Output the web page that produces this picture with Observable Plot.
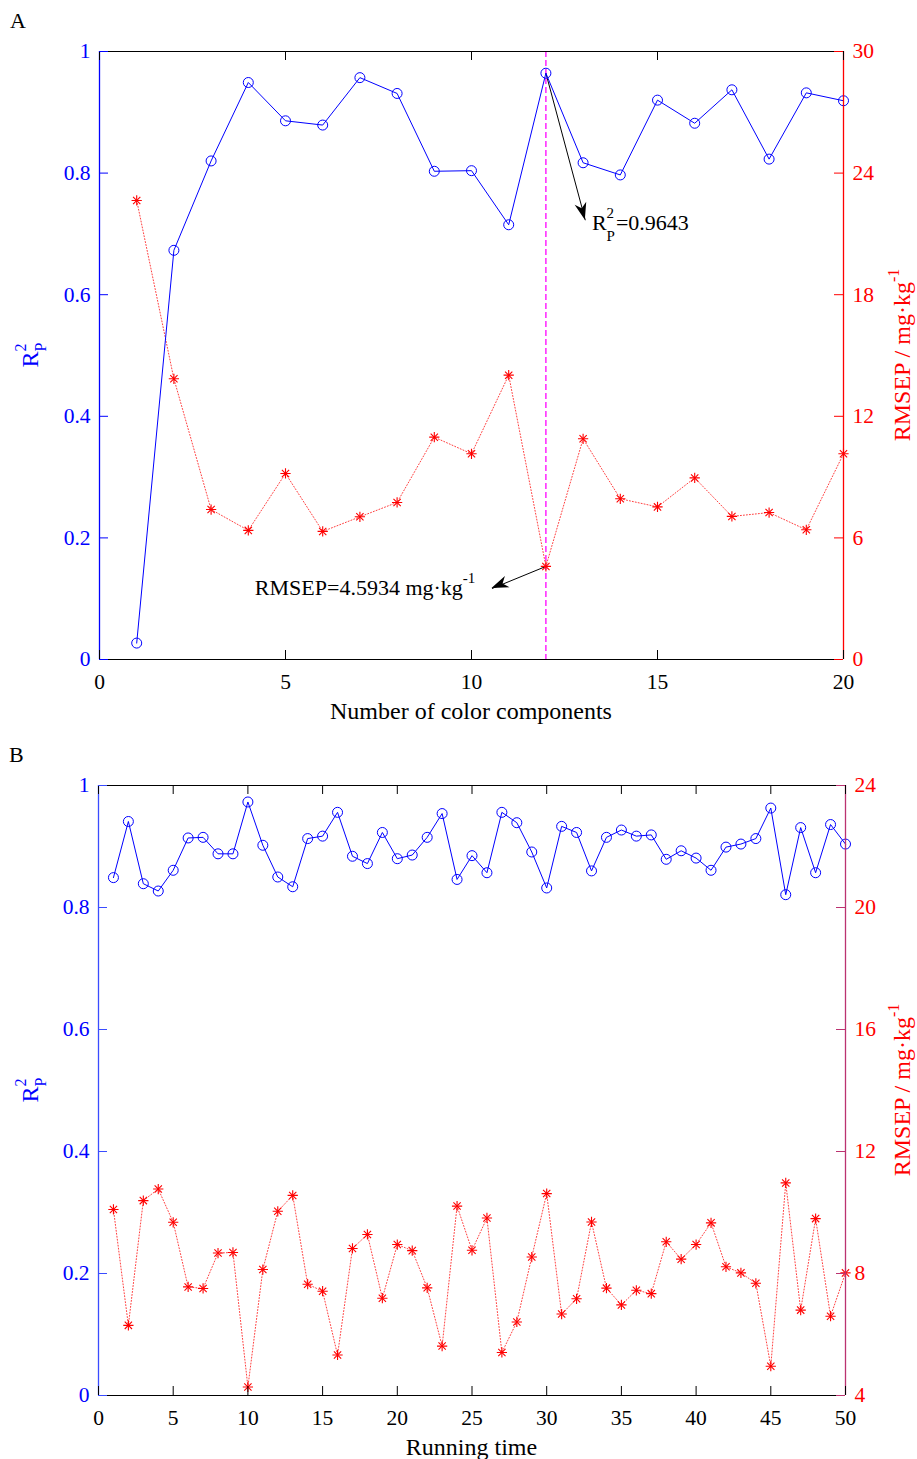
<!DOCTYPE html>
<html><head><meta charset="utf-8">
<script src="https://cdn.jsdelivr.net/npm/d3@7"></script>
<script src="https://cdn.jsdelivr.net/npm/@observablehq/plot@0.6"></script>
<style>
body{margin:0;background:#fff;}
#wrap{position:relative;width:917px;height:1459px;overflow:hidden;background:#fff;}
.pan{position:absolute;left:0;width:917px;}
</style></head><body><div id="wrap"><div id="pa" class="pan" style="top:0"></div><div id="pb" class="pan" style="top:730px"></div></div>
<script>
// ---------- Panel A data ----------
const componentsA = [1,2,3,4,5,6,7,8,9,10,11,12,13,14,15,16,17,18,19,20];
const r2A = [0.027,0.673,0.820,0.949,0.886,0.879,0.957,0.931,0.803,0.804,0.715,0.9643,0.817,0.797,0.920,0.882,0.937,0.823,0.932,0.919];
const rmsepA = [22.65,13.85,7.40,6.37,9.18,6.32,7.04,7.75,10.97,10.15,14.03,4.5934,10.89,7.93,7.53,8.96,7.06,7.25,6.40,10.15];
const xTicksA = [0,5,10,15,20];
const rmsepDomainA = [0,30];
const rmsepTicksA = [0,6,12,18,24,30];
const bestComponent = [12];
// annotation anchors (x in components, y in R2 / RMSEP units)
const r2Arrow = {x1:12, y1:0.9643, x2:13.06, y2:0.7225};
const r2Label = {x:13.25, y:0.706, value:"=0.9643"};
const rmArrow = {x1:12, y1:4.5934, x2:10.55, y2:3.50};
const rmLabel = {x:4.19, y:3.17, value:"RMSEP=4.5934 mg·kg"};

// ---------- Panel B data ----------
const runsB = [1,2,3,4,5,6,7,8,9,10,11,12,13,14,15,16,17,18,19,20,21,22,23,24,25,26,27,28,29,30,31,32,33,34,35,36,37,38,39,40,41,42,43,44,45,46,47,48,49,50];
const r2B = [0.849,0.941,0.839,0.827,0.861,0.914,0.915,0.888,0.888,0.973,0.902,0.850,0.834,0.913,0.917,0.956,0.884,0.872,0.923,0.880,0.886,0.915,0.954,0.846,0.885,0.857,0.956,0.939,0.891,0.832,0.933,0.923,0.860,0.915,0.927,0.917,0.919,0.879,0.893,0.881,0.861,0.899,0.904,0.913,0.963,0.821,0.931,0.857,0.936,0.904];
const rmsepB = [10.10,6.30,10.39,10.77,9.68,7.56,7.51,8.67,8.69,4.28,8.13,10.04,10.56,7.65,7.42,5.33,8.82,9.28,7.19,8.95,8.75,7.53,5.62,10.21,8.76,9.82,5.41,6.41,8.54,10.62,6.67,7.17,9.69,7.52,6.97,7.45,7.34,9.04,8.47,8.95,9.66,8.22,8.02,7.68,4.96,10.97,6.80,9.80,6.60,8.02];
const xTicksB = [0,5,10,15,20,25,30,35,40,45,50];
const rmsepDomainB = [4,24];
const rmsepTicksB = [4,8,12,16,20,24];

const r2Ticks = [0,0.2,0.4,0.6,0.8,1];
const r2Domain = [0,1];
const SERIF = "Liberation Serif, Times New Roman, serif";
const W = 917;

function addText(svg, {x, y, rotate=0, anchor="start", fill="black", size=22, parts}) {
  const t = d3.select(svg).append("text")
    .attr("transform", `translate(${x},${y}) rotate(${rotate})`)
    .attr("text-anchor", anchor).attr("fill", fill)
    .attr("font-family", SERIF).attr("font-size", size)
    .style("font-variant", "normal");
  for (const p of parts) {
    const s = t.append("tspan").text(p.t);
    if (p.size) s.attr("font-size", p.size);
    if (p.dx) s.attr("dx", p.dx);
    if (p.dy) s.attr("dy", p.dy);
  }
  return t;
}

function arrowHead(svg, x1, y1, x2, y2) {
  const L = 17, Wd = 6, notch = 5;
  const dx = x2 - x1, dy = y2 - y1, len = Math.hypot(dx, dy);
  const ux = dx/len, uy = dy/len, nx = -uy, ny = ux;
  const pts = [
    [x2, y2],
    [x2 - L*ux + Wd*nx, y2 - L*uy + Wd*ny],
    [x2 - (L-notch)*ux, y2 - (L-notch)*uy],
    [x2 - L*ux - Wd*nx, y2 - L*uy - Wd*ny]
  ];
  d3.select(svg).append("polygon").attr("points", pts.map(p=>p.join(",")).join(" ")).attr("fill","black");
}

function panel({host, height, mL, mR, mT, mB, xDomain, xTicks, xs, r2, rm, rDomain, rTicks, rightColor, leftColor, xTitle, letter, letterPos, extra}) {
  const toY = d3.scaleLinear().domain(rDomain).range([0,1]);
  const plotW = W - mL - mR, plotH = height - mT - mB;
  const tk = 9;
  const r2Data = xs.map((x,i)=>({x, v:r2[i]}));
  const rmData = xs.map((x,i)=>({x, v:toY(rm[i])}));
  const marks = [];
  if (extra) marks.push(...extra.marks(toY));
  marks.push(
    Plot.line(rmData, {x:"x", y:"v", stroke:"#ff4040", strokeWidth:1, strokeDasharray:"1,2"}),
    Plot.dot(rmData, {x:"x", y:"v", symbol:"plus", r:3.4, stroke:"#ff0000", strokeWidth:1.1}),
    Plot.dot(rmData, {x:"x", y:"v", symbol:"times", r:3.4, stroke:"#ff0000", strokeWidth:1.1}),
    Plot.line(r2Data, {x:"x", y:"v", stroke:"blue", strokeWidth:1}),
    Plot.dot(r2Data, {x:"x", y:"v", symbol:"circle", r:5, stroke:"blue", fill:"none", strokeWidth:1}),
    // box
    Plot.ruleY(r2Domain, {stroke:"black", strokeWidth:1}),
    Plot.ruleX([xDomain[0]], {stroke:leftColor, strokeWidth:1.3}),
    Plot.ruleX([xDomain[1]], {stroke:rightColor, strokeWidth:1.3}),
    // inward ticks
    Plot.tickX(xTicks, {x:d=>d, stroke:"black", insetTop: plotH - tk}),
    Plot.tickX(xTicks, {x:d=>d, stroke:"black", insetBottom: plotH - tk}),
    Plot.tickY(r2Ticks, {y:d=>d, stroke:leftColor, insetRight: plotW - tk}),
    Plot.tickY(rTicks.map(toY), {y:d=>d, stroke:rightColor, insetLeft: plotW - tk}),
    // tick labels
    Plot.axisX({ticks:xTicks, tickSize:0, tickPadding:14, label:null, color:"black", fill:"black", fontFamily:SERIF, fontVariant:"normal", tickFormat:d=>String(d)}),
    Plot.axisY({anchor:"left", ticks:r2Ticks, tickSize:0, tickPadding:9, label:null, color:"blue", fill:"blue", fontFamily:SERIF, fontVariant:"normal", tickFormat:d=>String(d)}),
    Plot.axisY({anchor:"right", ticks:rTicks.map(toY), tickSize:0, tickPadding:9, label:null, color:"red", fill:"red", fontFamily:SERIF, fontVariant:"normal", tickFormat:d=>String(Math.round(toY.invert(d)))})
  );
  const svg = Plot.plot({
    width: W, height, marginLeft: mL, marginRight: mR, marginTop: mT, marginBottom: mB,
    x: {domain: xDomain}, y: {domain: r2Domain},
    style: {fontFamily: SERIF, fontSize: "21.5px", background: "white", overflow: "visible", color: "black"},
    marks
  });
  host.appendChild(svg);
  // force serif face on every tick label
  d3.select(svg).selectAll("g").filter(function() {
    const a = this.getAttribute("aria-label") || "";
    return a.includes("axis");
  }).attr("font-family", SERIF).style("font-family", SERIF);
  d3.select(svg).selectAll("text").style("font-family", SERIF).style("font-variant", "normal");
  let sx, sy;
  try { sx = svg.scale("x").apply; sy = svg.scale("y").apply; } catch(e) {}
  if (!sx) { sx = d3.scaleLinear(xDomain, [mL, W - mR]); sy = d3.scaleLinear(r2Domain, [height - mB, mT]); }
  addText(svg, {x: letterPos[0], y: letterPos[1], size: 22, parts:[{t:letter}]});
  addText(svg, {x: (mL + W - mR)/2, y: height - mB + 60, anchor:"middle", size: 24, parts:[{t:xTitle}]});
  const cy = (mT + height - mB)/2;
  addText(svg, {x: 38, y: cy, rotate:-90, anchor:"middle", fill:"blue", size:24,
    parts:[{t:"R"}, {t:"2", size:16, dy:-12}, {t:"P", size:16, dx:-8, dy:20}]});
  addText(svg, {x: 910, y: cy, rotate:-90, anchor:"middle", fill:"red", size:24,
    parts:[{t:"RMSEP / mg·kg"}, {t:"-1", size:16, dy:-11}]});
  if (extra) extra.after(svg, sx, sy, toY);
  return svg;
}

panel({
  host: document.getElementById("pa"), height: 730, mL: 99, mR: 74, mT: 51, mB: 71,
  xDomain: [0,20], xTicks: xTicksA, xs: componentsA, r2: r2A, rm: rmsepA,
  rDomain: rmsepDomainA, rTicks: rmsepTicksA, rightColor: "red", leftColor: "blue",
  xTitle: "Number of color components", letter: "A", letterPos: [10, 28],
  extra: {
    marks: (toY) => [
      Plot.ruleX(bestComponent, {stroke:"#ff00ff", strokeWidth:1.3, strokeDasharray:"6,3"}),
      Plot.link([r2Arrow], {x1:"x1", y1:"y1", x2:"x2", y2:"y2", stroke:"black", strokeWidth:1}),
      Plot.link([rmArrow], {x1:"x1", y1:d=>toY(d.y1), x2:"x2", y2:d=>toY(d.y2), stroke:"black", strokeWidth:1})
    ],
    after: (svg, sx, sy, toY) => {
      arrowHead(svg, sx(r2Arrow.x1), sy(r2Arrow.y1), sx(r2Arrow.x2), sy(r2Arrow.y2));
      arrowHead(svg, sx(rmArrow.x1), sy(toY(rmArrow.y1)), sx(rmArrow.x2), sy(toY(rmArrow.y2)));
      addText(svg, {x: sx(r2Label.x), y: sy(r2Label.y), size: 22,
        parts:[{t:"R"}, {t:"2", size:15, dy:-12}, {t:"P", size:15, dx:-7.5, dy:23}, {t:r2Label.value, size:22, dx:1, dy:-11}]});
      addText(svg, {x: sx(rmLabel.x), y: sy(toY(rmLabel.y)), size: 22,
        parts:[{t:rmLabel.value}, {t:"-1", size:15, dy:-12}]});
    }
  }
});

panel({
  host: document.getElementById("pb"), height: 729, mL: 98, mR: 72, mT: 55, mB: 64,
  xDomain: [0,50], xTicks: xTicksB, xs: runsB, r2: r2B, rm: rmsepB,
  rDomain: rmsepDomainB, rTicks: rmsepTicksB, rightColor: "#bb3370", leftColor: "#3a4cff",
  xTitle: "Running time", letter: "B", letterPos: [9, 32]
});
</script></body></html>
